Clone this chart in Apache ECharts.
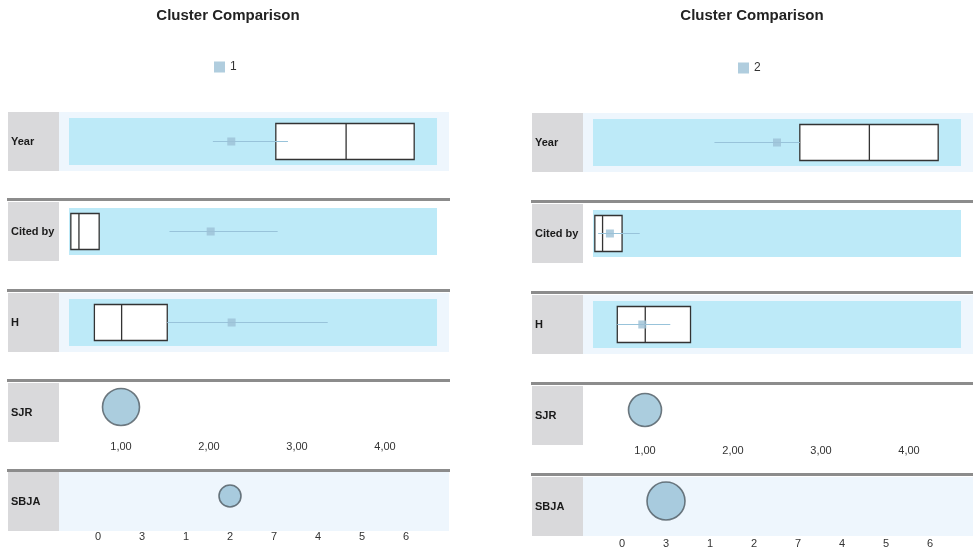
<!DOCTYPE html>
<html>
<head>
<meta charset="utf-8">
<script src="https://cdn.jsdelivr.net/npm/echarts@6/dist/echarts.min.js"></script>
<style>
  html, body { margin: 0; padding: 0; background: #fff; }
  #main { width: 973px; height: 549px; }
</style>
</head>
<body>
<div id="main"></div>
<script>
// clusters shown side by side
const clusters = ['1', '2'];
const rowNames = ['Year', 'Cited by', 'H', 'SJR', 'SBJA'];

// continuous features, placed on a 0-100 scale across the overall range
// box = [Q1, median, Q3], mean and its interval
const yearBox = [[56.2, 75.3, 93.8], [56.2, 75.1, 93.8]];
const yearMean = [44.1, 50.0];
const yearRange = [[39.1, 59.5], [33.0, 56.2]];

const citedBox = [[0.5, 2.7, 8.2], [0.5, 2.6, 7.9]];
const citedMean = [38.5, 4.6];
const citedRange = [[27.3, 56.7], [1.4, 12.7]];

const hBox = [[6.9, 14.3, 26.7], [6.6, 14.2, 26.5]];
const hMean = [44.2, 13.4];
const hRange = [[26.7, 70.3], [6.6, 21.0]];

// SJR on a value axis, SBJA on a category axis
const sjrTicks = [1, 2, 3, 4];
const sjrValue = [1.0, 1.0];
const sbjaCategories = ['0', '3', '1', '2', '7', '4', '5', '6'];
const sbjaValue = ['2', '3'];

const boxRows = [
  { box: yearBox, mean: yearMean, range: yearRange },
  { box: citedBox, mean: citedMean, range: citedRange },
  { box: hBox, mean: hMean, range: hRange }
];

// layout of the two panels
const panels = [
  { dx: 0, rows: [112, 202, 293, 383, 472], seps: [199, 290, 380, 470], sjrSize: 37, sbjaSize: 22, legendTop: 61, labelGap: [10, 11] },
  { dx: 524, rows: [113, 204, 295, 386, 477], seps: [201, 292, 383, 474], sjrSize: 33, sbjaSize: 38, legendTop: 62, labelGap: [11, 13] }
];
const rowH = 59;
const font = 'Arial, "Liberation Sans", sans-serif';
const pointColor = '#9cc0d6';
const bubbleStyle = { color: '#96c0d6', borderColor: '#4f5a62', borderWidth: 1.6 };

const grid = [], xAxis = [], yAxis = [], series = [], graphic = [], title = [], legend = [];

panels.forEach((p, pi) => {
  const x0 = 8 + p.dx;
  title.push({
    text: 'Cluster Comparison', left: 228 + p.dx, top: 8, textAlign: 'center', padding: 0,
    textStyle: { fontSize: 15, fontWeight: 'bold', color: '#222', fontFamily: font }
  });
  legend.push({
    data: [{ name: clusters[pi], itemStyle: { color: pointColor, borderWidth: 0 } }],
    left: 214 + p.dx, top: p.legendTop, padding: 0, icon: 'rect', itemWidth: 11, itemHeight: 11,
    selectedMode: false, textStyle: { fontSize: 12, color: '#333', fontFamily: font }
  });

  // row backgrounds, labels and separators
  p.rows.forEach((top, r) => {
    if (r === 0 || r === 2 || r === 4) {
      graphic.push({ type: 'rect', z: 0, shape: { x: x0 + 50, y: top, width: 391, height: rowH }, style: { fill: '#eef6fd' } });
    }
    if (r < 3) {
      graphic.push({ type: 'rect', z: 0, shape: { x: x0 + 61, y: top + 6, width: 368, height: 47 }, style: { fill: '#bdeaf8' } });
    }
    graphic.push({ type: 'rect', z: 0, shape: { x: x0, y: top, width: 51, height: rowH }, style: { fill: '#d9d9db' } });
    graphic.push({
      type: 'text', z: 1, x: x0 + 3, y: top + rowH / 2,
      style: { text: rowNames[r], font: 'bold 11px ' + font, fill: '#1a1a1a', verticalAlign: 'middle' }
    });
  });
  p.seps.forEach(y => {
    graphic.push({ type: 'rect', z: 1, shape: { x: x0 - 1, y: y - 1, width: 443, height: 3 }, style: { fill: '#8c8c8c' } });
  });

  // box plot rows
  boxRows.forEach((row, r) => {
    const g = grid.length;
    grid.push({ left: x0 + 61, width: 368, top: p.rows[r] + 6, height: 47 });
    xAxis.push({ gridIndex: g, type: 'value', min: 0, max: 100, show: false });
    yAxis.push({ gridIndex: g, type: 'category', data: ['c'], show: false });
    const b = row.box[pi];
    series.push({
      type: 'boxplot', xAxisIndex: g, yAxisIndex: g, boxWidth: [36, 36], z: 3,
      itemStyle: { color: '#fff', borderColor: '#333', borderWidth: 1.3 },
      data: [[b[0], b[0], b[1], b[2], b[2]]]
    });
    series.push({
      type: 'line', xAxisIndex: g, yAxisIndex: g, symbol: 'none', z: 4, silent: true,
      lineStyle: { color: '#98c3da', width: 1.2 },
      data: [[row.range[pi][0], 'c'], [row.range[pi][1], 'c']]
    });
    series.push({
      name: clusters[pi], type: 'scatter', xAxisIndex: g, yAxisIndex: g, symbol: 'rect', symbolSize: 8, z: 5,
      itemStyle: { color: pointColor },
      data: [[row.mean[pi], 'c']]
    });
  });

  // SJR row
  let g = grid.length;
  grid.push({ left: p.dx + 33, width: 396, top: p.rows[3], height: 48 });
  xAxis.push({
    gridIndex: g, type: 'value', min: 0, max: 4.5, interval: 1,
    axisLine: { show: false }, axisTick: { show: false }, splitLine: { show: false },
    axisLabel: {
      showMinLabel: false, showMaxLabel: false, margin: p.labelGap[0], fontSize: 11, color: '#333', fontFamily: font,
      formatter: v => sjrTicks.includes(v) ? v.toFixed(2).replace('.', ',') : ''
    }
  });
  yAxis.push({ gridIndex: g, type: 'category', data: ['c'], show: false });
  series.push({
    type: 'scatter', xAxisIndex: g, yAxisIndex: g, symbolSize: p.sjrSize, z: 5,
    itemStyle: bubbleStyle,
    data: [[sjrValue[pi], 'c']]
  });

  // SBJA row
  g = grid.length;
  grid.push({ left: p.dx + 76, width: 352, top: p.rows[4], height: 48 });
  xAxis.push({
    gridIndex: g, type: 'category', data: sbjaCategories, boundaryGap: true,
    axisLine: { show: false }, axisTick: { show: false }, splitLine: { show: false },
    axisLabel: { margin: p.labelGap[1], fontSize: 11, color: '#333', fontFamily: font, interval: 0 }
  });
  yAxis.push({ gridIndex: g, type: 'category', data: ['c'], show: false });
  series.push({
    type: 'scatter', xAxisIndex: g, yAxisIndex: g, symbolSize: p.sbjaSize, z: 5,
    itemStyle: bubbleStyle,
    data: [[sbjaValue[pi], 'c']]
  });
});

const chart = echarts.init(document.getElementById('main'));
chart.setOption({
  animation: false,
  backgroundColor: '#fff',
  title, legend, grid, xAxis, yAxis, series, graphic
});
</script>
</body>
</html>
